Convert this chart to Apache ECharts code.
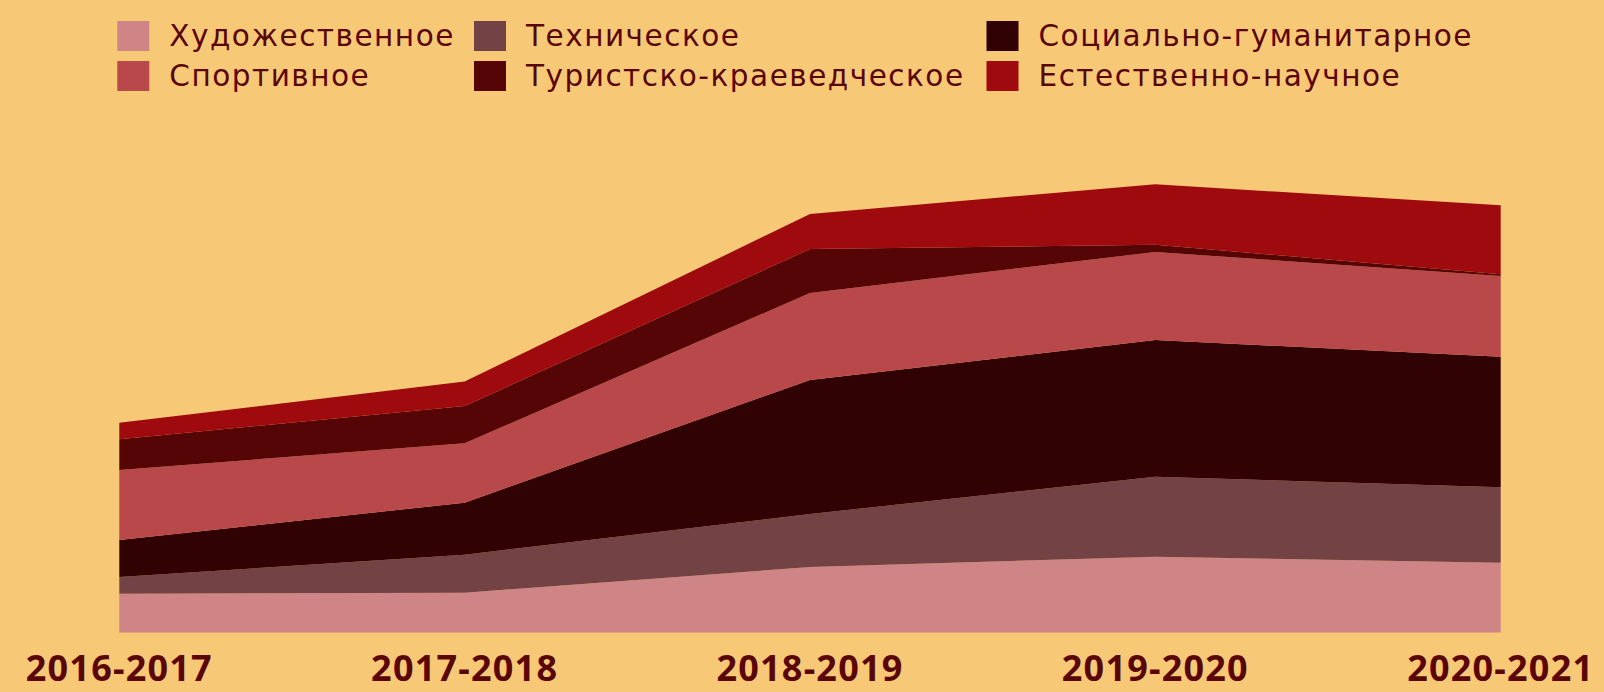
<!DOCTYPE html>
<html><head><meta charset="utf-8">
<script src="https://cdn.jsdelivr.net/npm/echarts@6/dist/echarts.min.js"></script>
<style>html,body{margin:0;padding:0;background:#f7c977;}#c{width:1604px;height:692px;}
#c svg text[style*="DejaVu"]{letter-spacing:1.5px;}</style>
</head><body><div id="c"></div>
<script>
const categories = ['2016-2017', '2017-2018', '2018-2019', '2019-2020', '2020-2021'];
const names = ['Художественное', 'Техническое', 'Социально-гуманитарное', 'Спортивное', 'Туристско-краеведческое', 'Естественно-научное'];
const colors = ['#cf8585', '#724244', '#300204', '#b8484a', '#560507', '#9e0a0d'];
const art = [39, 40, 65.7, 76, 70];
const tech = [16.7, 38, 53, 80, 75.4];
const social = [37, 52, 134, 136.7, 130.6];
const sport = [70, 59.4, 87, 88, 80.7];
const tourism = [30.7, 37.3, 44, 7.3, 1.7];
const science = [16.6, 24.5, 35, 60.4, 69];
const values = [art, tech, social, sport, tourism, science];

const textColor = '#5a0606';
const legendText = {color: textColor, fontFamily: 'DejaVu Sans', fontSize: 29.5, lineHeight: 30, padding: [0, 0, 0, 15]};
function mkLegend(items, left) {
  return {orient: 'vertical', left: left, top: 21, padding: 0, itemWidth: 32, itemHeight: 30, itemGap: 10,
    icon: 'rect', data: items, textStyle: legendText, selectedMode: false};
}
const chart = echarts.init(document.getElementById('c'), null, {renderer: 'svg'});
chart.setOption({
  backgroundColor: '#f7c977',
  animation: false,
  legend: [
    mkLegend([names[0], names[3]], 117.3),
    mkLegend([names[1], names[4]], 474),
    mkLegend([names[2], names[5]], 986.5)
  ],
  grid: {left: 119.3, right: 103.3, top: 132.7, bottom: 59.3, containLabel: false, outerBoundsMode: 'none'},
  xAxis: {type: 'category', data: categories, boundaryGap: false,
    axisLine: {show: false}, axisTick: {show: false}, splitLine: {show: false},
    axisLabel: {interval: 0, margin: 17, lineHeight: 36, color: textColor, fontFamily: 'Noto Sans', fontWeight: 'bold', fontSize: 36}},
  yAxis: {type: 'value', min: 0, max: 500, show: false},
  series: names.map((n, i) => ({
    name: n, type: 'line', stack: 'total', data: values[i], color: colors[i],
    showSymbol: false, symbol: 'none',
    lineStyle: {width: 0, opacity: 0},
    areaStyle: {color: colors[i], opacity: 1}
  }))
});
function spaceText() {
  document.querySelectorAll('#c svg text').forEach(t => {
    const s = t.textContent.trim();
    if (names.indexOf(s) >= 0) t.style.letterSpacing = '1.5px';
    else if (categories.indexOf(s) >= 0) t.style.letterSpacing = '1.2px';
  });
}
chart.on('finished', spaceText);
setTimeout(spaceText, 50);
</script></body></html>
